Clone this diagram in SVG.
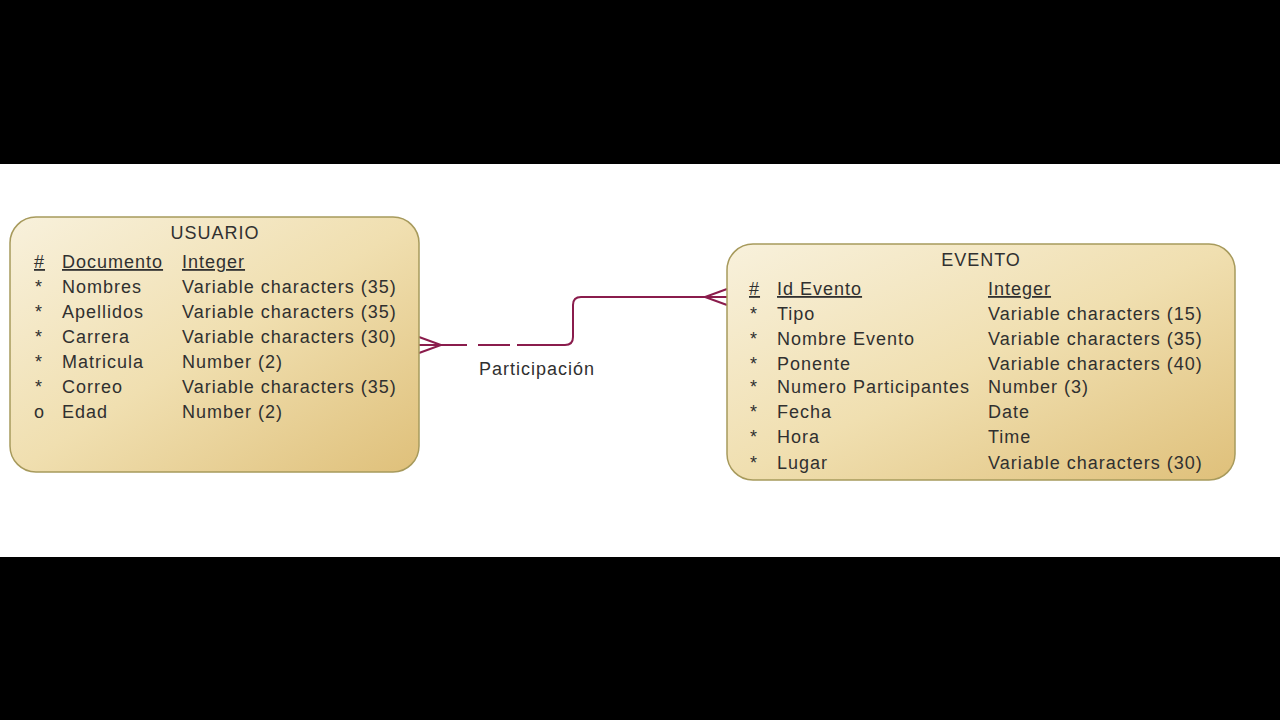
<svg xmlns="http://www.w3.org/2000/svg" width="1280" height="720" viewBox="0 0 1280 720">
<defs>
<linearGradient id="fill" x1="0" y1="0" x2="1" y2="1">
<stop offset="0" stop-color="#f8f1dc"/>
<stop offset="0.5" stop-color="#f0dfb0"/>
<stop offset="1" stop-color="#dfc07a"/>
</linearGradient>
<style>
.box{fill:url(#fill);stroke:#a79a5c;stroke-width:1.5}
text{font-family:"Liberation Sans",Arial,sans-serif;font-size:18px;letter-spacing:1px;fill:#303030}
.t{text-anchor:middle}
.u{text-decoration:underline}
.c{fill:none;stroke:#8a1c4c;stroke-width:2}
</style>
</defs>
<rect x="0" y="0" width="1280" height="164" fill="#000"/>
<rect x="0" y="164" width="1280" height="393" fill="#fff"/>
<rect x="0" y="557" width="1280" height="163" fill="#000"/>
<g id="connectors">
<path class="c" d="M419,337 L441,345 L419,353 M419,345 L441,345"/>
<path class="c" d="M441,345 L467,345 M478,345 L510,345 M517,345 L565,345 Q573,345 573,337 L573,305 Q573,297 581,297 L727,297"/>
<path class="c" d="M727,289 L705,297 L727,305"/>
<text x="479" y="375">Participación</text>
</g>
<g id="usuario">
<rect class="box" x="10" y="217" width="409" height="255" rx="26"/>
<text class="t" x="215" y="239">USUARIO</text>
<text class="u" x="34" y="268">#</text><text class="u" x="62" y="268">Documento</text><text class="u" x="182" y="268">Integer</text>
<text x="35" y="293">*</text><text x="62" y="293">Nombres</text><text x="182" y="293">Variable characters (35)</text>
<text x="35" y="318">*</text><text x="62" y="318">Apellidos</text><text x="182" y="318">Variable characters (35)</text>
<text x="35" y="343">*</text><text x="62" y="343">Carrera</text><text x="182" y="343">Variable characters (30)</text>
<text x="35" y="368">*</text><text x="62" y="368">Matricula</text><text x="182" y="368">Number (2)</text>
<text x="35" y="393">*</text><text x="62" y="393">Correo</text><text x="182" y="393">Variable characters (35)</text>
<text x="34" y="418">o</text><text x="62" y="418">Edad</text><text x="182" y="418">Number (2)</text>
</g>
<g id="evento">
<rect class="box" x="727" y="244" width="508" height="236" rx="26"/>
<text class="t" x="981" y="266">EVENTO</text>
<text class="u" x="749" y="295">#</text><text class="u" x="777" y="295">Id Evento</text><text class="u" x="988" y="295">Integer</text>
<text x="750" y="320">*</text><text x="777" y="320">Tipo</text><text x="988" y="320">Variable characters (15)</text>
<text x="750" y="345">*</text><text x="777" y="345">Nombre Evento</text><text x="988" y="345">Variable characters (35)</text>
<text x="750" y="370">*</text><text x="777" y="370">Ponente</text><text x="988" y="370">Variable characters (40)</text>
<text x="750" y="393">*</text><text x="777" y="393">Numero Participantes</text><text x="988" y="393">Number (3)</text>
<text x="750" y="418">*</text><text x="777" y="418">Fecha</text><text x="988" y="418">Date</text>
<text x="750" y="443">*</text><text x="777" y="443">Hora</text><text x="988" y="443">Time</text>
<text x="750" y="469">*</text><text x="777" y="469">Lugar</text><text x="988" y="469">Variable characters (30)</text>
</g>
</svg>
